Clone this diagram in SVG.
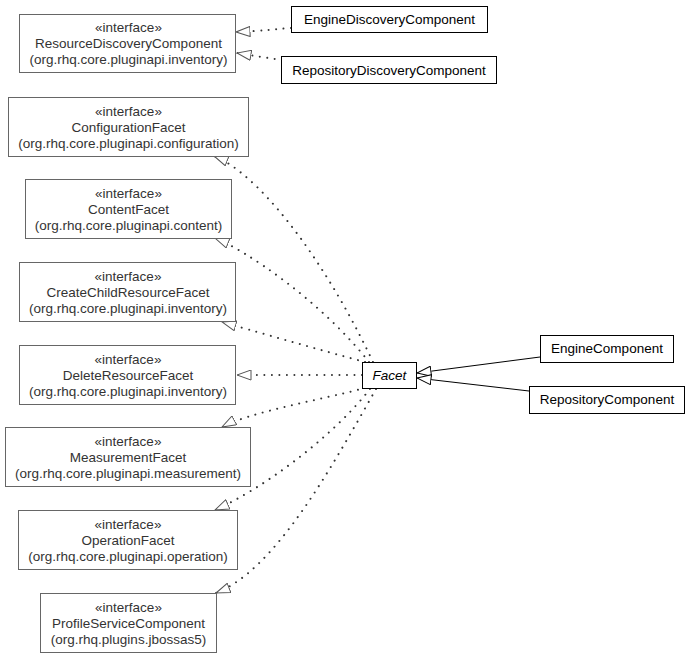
<svg xmlns="http://www.w3.org/2000/svg" width="691" height="657" viewBox="0 0 691 657">
<style>
text{font-family:"Liberation Sans",Arial,sans-serif;font-size:13.5px;text-anchor:middle}
.i rect{fill:#fff;stroke:#666;stroke-width:1}
.i text{fill:#333}
.c rect{fill:#fff;stroke:#000;stroke-width:1}
.c text{fill:#000}
.d{fill:none;stroke:#333;stroke-width:2;stroke-dasharray:0.01,7.5;stroke-linecap:round}
.s{fill:none;stroke:#000;stroke-width:1}
</style>
<defs>
<marker id="t" viewBox="0 0 15 11" refX="14.5" refY="5.5" markerWidth="15" markerHeight="11" markerUnits="userSpaceOnUse" orient="auto">
<path d="M0.5,0.5 L14.5,5.5 L0.5,10.5 z" fill="#fff" stroke="#000" stroke-width="1"/>
</marker>
<marker id="tg" viewBox="0 0 15 11" refX="14.5" refY="5.5" markerWidth="15" markerHeight="11" markerUnits="userSpaceOnUse" orient="auto">
<path d="M0.5,0.5 L14.5,5.5 L0.5,10.5 z" fill="#fff" stroke="#555" stroke-width="1"/>
</marker>
</defs>
<g id="connectors">
<path class="d" d="M291,28 C275,29 262,31 236,32" marker-end="url(#tg)"/>
<path class="d" d="M282,60 C268,58 255,56 237,53" marker-end="url(#tg)"/>
<path class="d" d="M373,362 C320,250 255,172 214,156" marker-end="url(#tg)"/>
<path class="d" d="M369,362 C320,300 245,250 215,238" marker-end="url(#tg)"/>
<path class="d" d="M365,362 C320,350 250,330 222,322" marker-end="url(#tg)"/>
<path class="d" d="M362,375 L237,375" marker-end="url(#tg)"/>
<path class="d" d="M365,388 C320,400 250,412 222,427" marker-end="url(#tg)"/>
<path class="d" d="M370,389 C330,440 260,490 215,510" marker-end="url(#tg)"/>
<path class="d" d="M376,389 C330,470 275,570 216,593" marker-end="url(#tg)"/>
<path class="s" d="M540,357 L417,373" marker-end="url(#t)"/>
<path class="s" d="M529,391 L417,378" marker-end="url(#t)"/>
</g>
<g id="ResourceDiscoveryComponent" class="i"><rect x="19.5" y="14.5" width="216" height="58"/><text x="128.5" y="32">«interface»</text><text x="128.5" y="48">ResourceDiscoveryComponent</text><text x="128.5" y="64">(org.rhq.core.pluginapi.inventory)</text></g>
<g id="EngineDiscoveryComponent" class="c"><rect x="291.5" y="6.5" width="196" height="26"/><text x="389.5" y="24">EngineDiscoveryComponent</text></g>
<g id="RepositoryDiscoveryComponent" class="c"><rect x="281.5" y="56.5" width="215" height="27"/><text x="389" y="75">RepositoryDiscoveryComponent</text></g>
<g id="ConfigurationFacet" class="i"><rect x="8.5" y="97.5" width="240" height="59"/><text x="128.5" y="116">«interface»</text><text x="128.5" y="132">ConfigurationFacet</text><text x="128.5" y="148">(org.rhq.core.pluginapi.configuration)</text></g>
<g id="ContentFacet" class="i"><rect x="25.5" y="179.5" width="206" height="59"/><text x="128.5" y="198">«interface»</text><text x="128.5" y="214">ContentFacet</text><text x="128.5" y="230">(org.rhq.core.pluginapi.content)</text></g>
<g id="CreateChildResourceFacet" class="i"><rect x="19.5" y="262.5" width="216" height="59"/><text x="128" y="281">«interface»</text><text x="128" y="297">CreateChildResourceFacet</text><text x="128" y="313">(org.rhq.core.pluginapi.inventory)</text></g>
<g id="DeleteResourceFacet" class="i"><rect x="19.5" y="345.5" width="216" height="59"/><text x="128" y="364">«interface»</text><text x="128" y="380">DeleteResourceFacet</text><text x="128" y="396">(org.rhq.core.pluginapi.inventory)</text></g>
<g id="MeasurementFacet" class="i"><rect x="5.5" y="427.5" width="245" height="59"/><text x="128" y="446">«interface»</text><text x="128" y="462">MeasurementFacet</text><text x="128" y="478">(org.rhq.core.pluginapi.measurement)</text></g>
<g id="OperationFacet" class="i"><rect x="18.5" y="510.5" width="219" height="59"/><text x="128" y="529">«interface»</text><text x="128" y="545">OperationFacet</text><text x="128" y="561">(org.rhq.core.pluginapi.operation)</text></g>
<g id="ProfileServiceComponent" class="i"><rect x="40.5" y="593.5" width="176" height="59"/><text x="128.5" y="612">«interface»</text><text x="128.5" y="628">ProfileServiceComponent</text><text x="128.5" y="644">(org.rhq.plugins.jbossas5)</text></g>
<g id="Facet" class="c"><rect x="362.5" y="362.5" width="54" height="26"/><text x="389.5" y="380" font-style="italic">Facet</text></g>
<g id="EngineComponent" class="c"><rect x="540.5" y="335.5" width="133" height="27"/><text x="607" y="353">EngineComponent</text></g>
<g id="RepositoryComponent" class="c"><rect x="529.5" y="386.5" width="155" height="27"/><text x="607" y="404">RepositoryComponent</text></g>
</svg>
